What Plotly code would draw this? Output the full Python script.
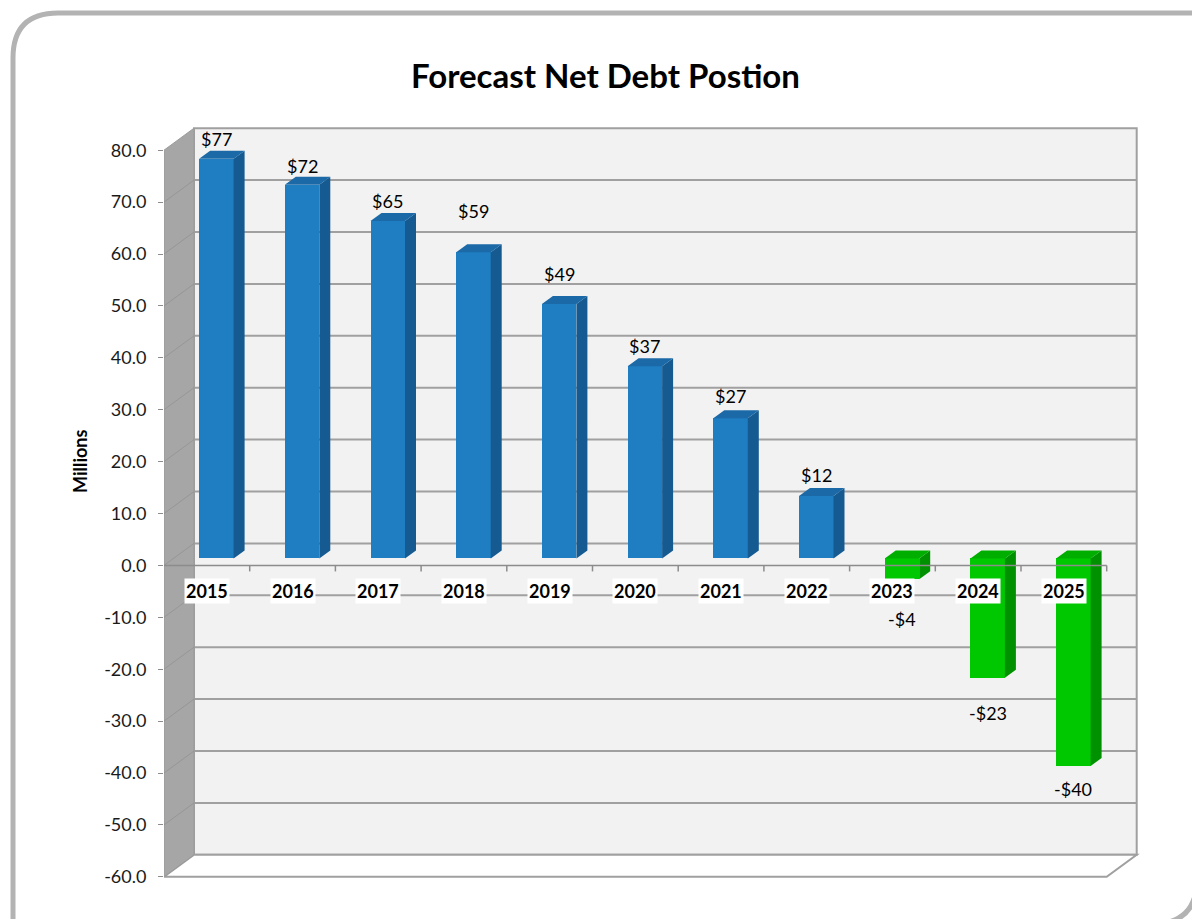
import plotly.graph_objects as go

# ---- data -------------------------------------------------------------
years = ["2015", "2016", "2017", "2018", "2019", "2020",
         "2021", "2022", "2023", "2024", "2025"]
net_debt = [77, 72, 65, 59, 49, 37, 27, 12, -4, -23, -40]   # $ millions
y_ticks = [-60, -50, -40, -30, -20, -10, 0, 10, 20, 30, 40, 50, 60, 70, 80]

# ---- geometry of the pseudo-3D frame (pixels / scale) --------------------
W, H = 1192, 919
PLOT_L, PLOT_R, PLOT_T, PLOT_B = 164, 1150, 110, 890
PX_PER_CAT = 85.7          # horizontal pixels per category
PX_PER_UNIT = 5.19         # vertical pixels per $1M
ZERO_PX = 565.4            # pixel row of value 0 on the front plane

x_range = [-0.5, -0.5 + (PLOT_R - PLOT_L) / PX_PER_CAT]
y_range = [(ZERO_PX - PLOT_B) / PX_PER_UNIT, (ZERO_PX - PLOT_T) / PX_PER_UNIT]

WALL_DX = 30 / PX_PER_CAT   # depth of the chart box
WALL_DY = 22 / PX_PER_UNIT
BAR_W = 34.5 / PX_PER_CAT
BAR_SHIFT_X = 9.5 / PX_PER_CAT
BAR_SHIFT_Y = 7 / PX_PER_UNIT
BAR_DX = 11 / PX_PER_CAT    # depth of each column
BAR_DY = 8 / PX_PER_UNIT

Y_MIN, Y_MAX = y_ticks[0], y_ticks[-1]
X_MIN, X_MAX = -0.5, len(years) - 0.5

FONT = "Lato"
BLUE = dict(front="#1f7dc2", side="#155b91", top="#1b69a7")
GREEN = dict(front="#00c800", side="#009100", top="#00ae00")
GRID = "#a0a0a0"

# pixel-specific gaps between each column end and its value label
label_gap_px = [20, 19, 20, 41, 30, 20, 22, 21, 40, 35, 23]


def px_to_paper(px, py):
    return ((px - PLOT_L) / (PLOT_R - PLOT_L), (PLOT_B - py) / (PLOT_B - PLOT_T))


def poly_path(pts):
    return "M " + " L ".join(f"{x},{y}" for x, y in pts) + " Z"


fig = go.Figure()
shapes = []

# back wall
shapes.append(dict(type="path", xref="x", yref="y", layer="below",
                   path=poly_path([(X_MIN + WALL_DX, Y_MIN + WALL_DY),
                                   (X_MAX + WALL_DX, Y_MIN + WALL_DY),
                                   (X_MAX + WALL_DX, Y_MAX + WALL_DY),
                                   (X_MIN + WALL_DX, Y_MAX + WALL_DY)]),
                   fillcolor="#f2f2f2", line=dict(color=GRID, width=2)))
# gridlines on the back wall
for t in y_ticks[1:-1]:
    shapes.append(dict(type="line", xref="x", yref="y", layer="below",
                       x0=X_MIN + WALL_DX, x1=X_MAX + WALL_DX,
                       y0=t + WALL_DY, y1=t + WALL_DY,
                       line=dict(color=GRID, width=2)))
# floor
shapes.append(dict(type="path", xref="x", yref="y", layer="below",
                   path=poly_path([(X_MIN, Y_MIN), (X_MAX, Y_MIN),
                                   (X_MAX + WALL_DX, Y_MIN + WALL_DY),
                                   (X_MIN + WALL_DX, Y_MIN + WALL_DY)]),
                   fillcolor="#ffffff", line=dict(color=GRID, width=2)))
# left side wall
shapes.append(dict(type="path", xref="x", yref="y", layer="below",
                   path=poly_path([(X_MIN, Y_MIN), (X_MIN, Y_MAX),
                                   (X_MIN + WALL_DX, Y_MAX + WALL_DY),
                                   (X_MIN + WALL_DX, Y_MIN + WALL_DY)]),
                   fillcolor="#a6a6a6", line=dict(color="#9a9a9a", width=1)))
for t in y_ticks[1:-1]:
    shapes.append(dict(type="line", xref="x", yref="y", layer="below",
                       x0=X_MIN, x1=X_MIN + WALL_DX, y0=t, y1=t + WALL_DY,
                       line=dict(color="rgba(130,130,130,0.45)", width=1)))

# ---- columns: front faces as bars, side / top faces as polygons ---------
centers = [i + BAR_SHIFT_X for i in range(len(years))]
front_colors = [BLUE["front"] if v >= 0 else GREEN["front"] for v in net_debt]
fig.add_trace(go.Bar(x=centers, y=net_debt, base=BAR_SHIFT_Y, width=BAR_W,
                     marker=dict(color=front_colors, line=dict(width=0)),
                     hoverinfo="skip", showlegend=False))

for palette, positive in ((BLUE, True), (GREEN, False)):
    side_x, side_y, top_x, top_y = [], [], [], []
    for c, v in zip(centers, net_debt):
        if (v >= 0) != positive:
            continue
        x0, x1 = c - BAR_W / 2, c + BAR_W / 2
        lo, hi = sorted((BAR_SHIFT_Y, BAR_SHIFT_Y + v))
        side_x += [x1, x1, x1 + BAR_DX, x1 + BAR_DX, x1, None]
        side_y += [lo, hi, hi + BAR_DY, lo + BAR_DY, lo, None]
        top_x += [x0, x1, x1 + BAR_DX, x0 + BAR_DX, x0, None]
        top_y += [hi, hi, hi + BAR_DY, hi + BAR_DY, hi, None]
    fig.add_trace(go.Scatter(x=side_x, y=side_y, mode="lines", fill="toself",
                             fillcolor=palette["side"], line=dict(width=0),
                             hoverinfo="skip", showlegend=False))
    fig.add_trace(go.Scatter(x=top_x, y=top_y, mode="lines", fill="toself",
                             fillcolor=palette["top"], line=dict(width=0),
                             hoverinfo="skip", showlegend=False))

# category axis along the front edge at zero, with boundary ticks
shapes.append(dict(type="line", xref="x", yref="y", layer="above",
                   x0=X_MIN, x1=X_MAX, y0=0, y1=0,
                   line=dict(color="#8c8c8c", width=1.5)))
for i in range(len(years)):
    shapes.append(dict(type="line", xref="x", yref="y", layer="above",
                       x0=i + 0.5, x1=i + 0.5, y0=0, y1=-6 / PX_PER_UNIT,
                       line=dict(color="#8c8c8c", width=1.5)))

# outer rounded frame
a = px_to_paper(13, 58); b = px_to_paper(13, 13); c = px_to_paper(58, 13)
s0 = px_to_paper(13, 1000); s1 = px_to_paper(1300, 13)
shapes.append(dict(type="path", xref="paper", yref="paper", layer="above",
                   path=(f"M {s0[0]},{s0[1]} L {a[0]},{a[1]} "
                         f"Q {b[0]},{b[1]} {c[0]},{c[1]} L {s1[0]},{s1[1]}"),
                   line=dict(color="#b3b3b3", width=5)))
d = px_to_paper(1100, 924); e = px_to_paper(1152, 924)
f = px_to_paper(1197, 924); g = px_to_paper(1197, 879); h = px_to_paper(1197, 800)
shapes.append(dict(type="path", xref="paper", yref="paper", layer="above",
                   path=(f"M {d[0]},{d[1]} L {e[0]},{e[1]} Q {f[0]},{f[1]} {g[0]},{g[1]} "
                         f"L {h[0]},{h[1]}"),
                   line=dict(color="#b3b3b3", width=5)))

# ---- annotations --------------------------------------------------------
annotations = []
for c, v, gap in zip(centers, net_debt, label_gap_px):
    txt = f"${v:.0f}" if v >= 0 else f"-${-v:.0f}"
    annotations.append(dict(x=c, y=BAR_SHIFT_Y + v, xref="x", yref="y",
                            text=txt, showarrow=False,
                            xanchor="center", yanchor="middle",
                            yshift=gap if v >= 0 else -gap,
                            font=dict(family=FONT, size=18, color="#000000")))
for i, yr in enumerate(years):
    annotations.append(dict(x=i, y=0, xref="x", yref="y", text=f"<b>{yr}</b>",
                            showarrow=False, xanchor="center", yanchor="middle",
                            yshift=-26, bgcolor="#ffffff", borderpad=1,
                            font=dict(family=FONT, size=18, color="#000000")))
tx, ty = px_to_paper(605, 75)
annotations.append(dict(x=tx, y=ty, xref="paper", yref="paper",
                        text="<b>Forecast Net Debt Postion</b>", showarrow=False,
                        xanchor="center", yanchor="middle",
                        font=dict(family=FONT, size=33, color="#000000")))
mx, my = px_to_paper(80, 462)
annotations.append(dict(x=mx, y=my, xref="paper", yref="paper",
                        text="<b>Millions</b>", showarrow=False, textangle=-90,
                        xanchor="center", yanchor="middle",
                        font=dict(family=FONT, size=18, color="#000000")))

fig.update_layout(
    width=W, height=H,
    margin=dict(l=PLOT_L, r=W - PLOT_R, t=PLOT_T, b=H - PLOT_B, autoexpand=False),
    paper_bgcolor="#ffffff", plot_bgcolor="rgba(0,0,0,0)",
    xaxis=dict(range=x_range, visible=False, fixedrange=True),
    yaxis=dict(range=y_range, tickvals=y_ticks,
               ticktext=[f"{t:.1f}" for t in y_ticks],
               ticks="outside", ticklen=5, tickwidth=1, tickcolor="#8c8c8c",
               ticklabelstandoff=8,
               showgrid=False, zeroline=False, showline=False, fixedrange=True,
               tickfont=dict(family=FONT, size=18, color="#1a1a1a")),
    shapes=shapes, annotations=annotations,
    showlegend=False, bargap=0,
)

fig.write_html("out.html")
